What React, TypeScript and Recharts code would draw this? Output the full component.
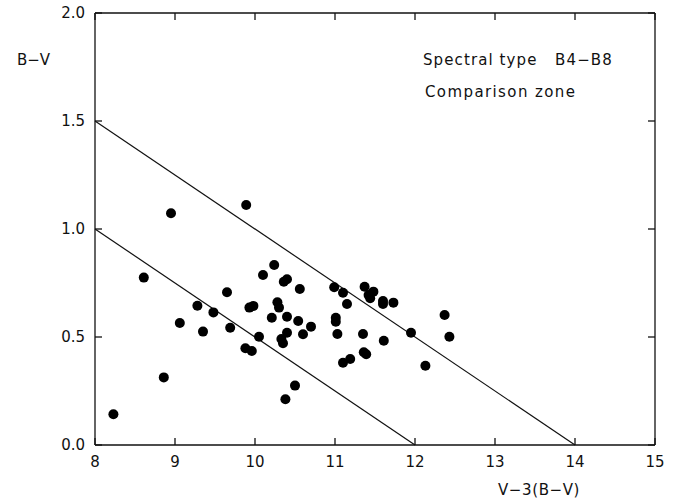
import React from "react";
import {
  ScatterChart,
  Scatter,
  XAxis,
  YAxis,
  ReferenceLine,
} from "recharts";

// V-3(B-V) values
const xValues = [
  9.89, 8.95, 8.61, 10.24, 10.10, 10.36, 10.40, 9.65, 9.28, 9.48,
  9.06, 9.35, 9.69, 9.93, 9.98, 10.28, 10.30, 10.21, 10.40, 10.05,
  10.33, 10.35, 9.88, 9.96, 8.86, 10.38, 8.23, 10.56, 10.99, 11.10,
  11.15, 11.37, 11.42, 11.48, 11.44, 11.60, 11.60, 11.73, 12.37, 12.43,
  11.95, 11.61, 11.35, 11.36, 11.39, 12.13, 11.10, 11.19, 11.03, 11.01,
  11.01, 10.54, 10.70, 10.40, 10.60, 10.50,
];

// B-V values
const yValues = [
  1.111, 1.073, 0.775, 0.833, 0.787, 0.756, 0.767, 0.707, 0.645, 0.614,
  0.565, 0.525, 0.543, 0.636, 0.644, 0.661, 0.636, 0.589, 0.594, 0.501,
  0.491, 0.471, 0.448, 0.435, 0.313, 0.212, 0.142, 0.722, 0.730, 0.705,
  0.653, 0.733, 0.694, 0.710, 0.679, 0.667, 0.653, 0.659, 0.602, 0.501,
  0.520, 0.483, 0.514, 0.429, 0.420, 0.367, 0.381, 0.398, 0.514, 0.589,
  0.571, 0.574, 0.548, 0.520, 0.513, 0.275,
];

// comparison zone boundaries
const upperLine = [
  { x: 8, y: 1.5 },
  { x: 14, y: 0 },
];
const lowerLine = [
  { x: 8, y: 1.0 },
  { x: 12, y: 0 },
];

const xTicks = [8, 9, 10, 11, 12, 13, 14, 15];
const yTicks = [0, 0.5, 1.0, 1.5, 2.0];

const stars = xValues.map((x, i) => ({ x, y: yValues[i] }));

const FONT = "'DejaVu Sans', sans-serif";
const INK = "#111";
const TICK = 7;
const axisLine = { stroke: INK, strokeWidth: 1.3 };

const Dot = (props: any) => (
  <circle cx={props.cx} cy={props.cy} r={5} fill="#000" />
);
const NoDot = () => <g />;

// ticks drawn inward, labels outside (like the old plotter frame)
const BottomTick = (p: any) => (
  <g>
    <line x1={p.x} y1={p.y} x2={p.x} y2={p.y - TICK} stroke={INK} strokeWidth={1.3} />
    <text x={p.x} y={p.y + 11} dy="0.71em" textAnchor="middle" fill={INK} fontSize={15} fontFamily={FONT}>
      {p.payload.value}
    </text>
  </g>
);
const LeftTick = (p: any) => (
  <g>
    <line x1={p.x} y1={p.y} x2={p.x + TICK} y2={p.y} stroke={INK} strokeWidth={1.3} />
    <text x={p.x - 10} y={p.y} dy="0.355em" textAnchor="end" fill={INK} fontSize={15} fontFamily={FONT}>
      {Number(p.payload.value).toFixed(1)}
    </text>
  </g>
);
const TopTick = (p: any) => (
  <line x1={p.x} y1={p.y} x2={p.x} y2={p.y + TICK} stroke={INK} strokeWidth={1.3} />
);
const RightTick = (p: any) => (
  <line x1={p.x} y1={p.y} x2={p.x - TICK} y2={p.y} stroke={INK} strokeWidth={1.3} />
);

export default function App() {
  return (
    <div
      style={{
        position: "absolute",
        left: 0,
        top: 0,
        width: 675,
        height: 501,
        background: "#fff",
      }}
    >
      <ScatterChart
        width={675}
        height={501}
        margin={{ top: 12, right: 19, bottom: 26, left: 0 }}
      >
        <XAxis
          type="number"
          dataKey="x"
          domain={[8, 15]}
          ticks={xTicks}
          tick={BottomTick}
          tickSize={0}
          tickMargin={0}
          axisLine={axisLine}
          tickLine={false}
          height={30}
          allowDataOverflow
        />
        <XAxis
          xAxisId="top"
          orientation="top"
          type="number"
          dataKey="x"
          domain={[8, 15]}
          ticks={xTicks}
          tick={TopTick}
          tickSize={0}
          tickMargin={0}
          axisLine={axisLine}
          tickLine={false}
          height={1}
          allowDataOverflow
        />
        <YAxis
          type="number"
          dataKey="y"
          domain={[0, 2]}
          ticks={yTicks}
          tick={LeftTick}
          tickSize={0}
          tickMargin={0}
          axisLine={axisLine}
          tickLine={false}
          width={95}
          allowDataOverflow
        />
        <YAxis
          yAxisId="right"
          orientation="right"
          type="number"
          dataKey="y"
          domain={[0, 2]}
          ticks={yTicks}
          tick={RightTick}
          tickSize={0}
          tickMargin={0}
          axisLine={axisLine}
          tickLine={false}
          width={1}
          allowDataOverflow
        />
        <ReferenceLine
          segment={upperLine}
          stroke={INK}
          strokeWidth={1.2}
          ifOverflow="extendDomain"
        />
        <ReferenceLine
          segment={lowerLine}
          stroke={INK}
          strokeWidth={1.2}
          ifOverflow="extendDomain"
        />
        <Scatter data={stars} shape={Dot} isAnimationActive={false} />
        <Scatter
          data={stars}
          xAxisId="top"
          yAxisId="right"
          shape={NoDot}
          isAnimationActive={false}
        />
      </ScatterChart>
      <svg
        width={675}
        height={501}
        style={{ position: "absolute", left: 0, top: 0, pointerEvents: "none" }}
      >
        <g fontFamily={FONT} fontSize={15} fill={INK}>
          <text x={17} y={65}>B−V</text>
          <text x={423} y={65} xmlSpace="preserve" letterSpacing={1.1}>
            Spectral type   B4−B8
          </text>
          <text x={425} y={97} letterSpacing={1.4}>Comparison zone</text>
          <text x={498} y={495} letterSpacing={0.6}>V−3(B−V)</text>
        </g>
      </svg>
    </div>
  );
}
